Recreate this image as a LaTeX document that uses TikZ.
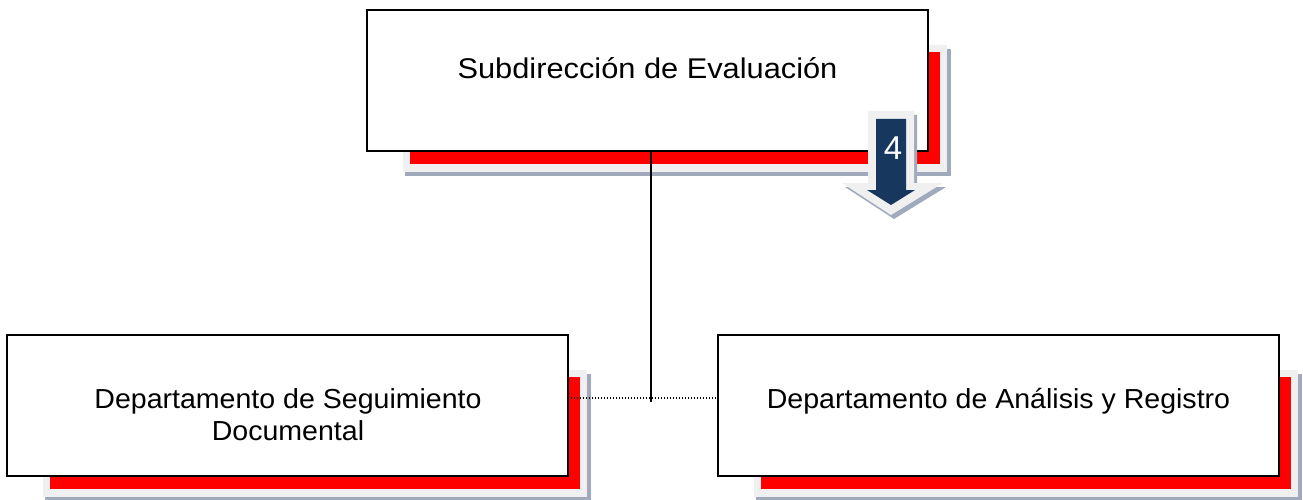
\documentclass[tikz,border=0pt]{standalone}
\usepackage{fontspec}
\setmainfont{Liberation Sans}
\usetikzlibrary{calc}
\definecolor{shred}{RGB}{255,0,0}
\definecolor{shgray}{RGB}{240,240,240}
\definecolor{shpat}{RGB}{160,170,188}
\definecolor{navyarrow}{RGB}{23,55,94}
\pgfdeclarelayer{background}
\pgfsetlayers{background,main}
\newcommand\orgshadow[1]{%
  \fill[shpat] ($(#1.north west)+(38,39)$) rectangle ($(#1.south east)+(23,25)$);
  \fill[shgray] ($(#1.north west)+(36,35)$) rectangle ($(#1.south east)+(19,21)$);
  \fill[shred] ($(#1.north west)+(43,42)$) rectangle ($(#1.south east)+(12,13)$);}
\begin{document}
\begin{tikzpicture}[x=1pt,y=-1pt,
  orgbox/.style={draw=black, line width=1.6pt, fill=white, minimum width=561pt, minimum height=141pt, inner sep=0pt, outer sep=0pt},
  toptext/.style={anchor=base, inner sep=0pt, font=\fontsize{28.5}{32}\selectfont},
  bottext/.style={anchor=base, inner sep=0pt, align=center, font=\fontsize{27.5}{32}\selectfont},
  conn/.style={draw=black, line width=1.3pt},
  dotconn/.style={draw=black, line width=1.2pt, dash pattern=on 1.2pt off 1.8pt}]
\useasboundingbox (0,0) rectangle (1303,500);
% boxes
\node[orgbox] (top) at (647.5,80.5) {};
\node[orgbox] (left) at (287.5,405.5) {};
\node[orgbox] (right) at (998.5,405.5) {};
\begin{pgfonlayer}{background}
  \orgshadow{top}
  \orgshadow{left}
  \orgshadow{right}
\end{pgfonlayer}
% texts
\node[toptext] (ttop) at (647.5,79) {\scalebox{1.08}[1]{Subdirección de Evaluación}};
\node[bottext] (tleft) at (288,440) {\scalebox{1.038}[1]{Departamento de Seguimiento}\\\scalebox{1.038}[1]{Documental}};
\node[bottext] (tright) at (998.5,408) {\scalebox{1.038}[1]{Departamento de Análisis y Registro}};
% connectors
\coordinate (j) at (651,398);
\draw[conn] (top.south -| j) -- ($(j)+(0,4)$);
\draw[dotconn] (left.east |- j) -- (right.west |- j);
% step arrow
\fill[shpat] (871,115) -- (917,115) -- (917,187) -- (946,187) -- (894,219) -- (845,187) -- (871,187) -- cycle;
\fill[shgray] (868,111) -- (914,111) -- (914,183) -- (943,183) -- (891,215) -- (842,183) -- (868,183) -- cycle;
\fill[navyarrow] (876,119) -- (906,119) -- (906,190) -- (915,190) -- (891,205) -- (867,190) -- (876,190) -- cycle;
\node[anchor=base, inner sep=0pt, text=white, font=\fontsize{33}{33}\selectfont] (num) at (893,159) {4};
\end{tikzpicture}
\end{document}
